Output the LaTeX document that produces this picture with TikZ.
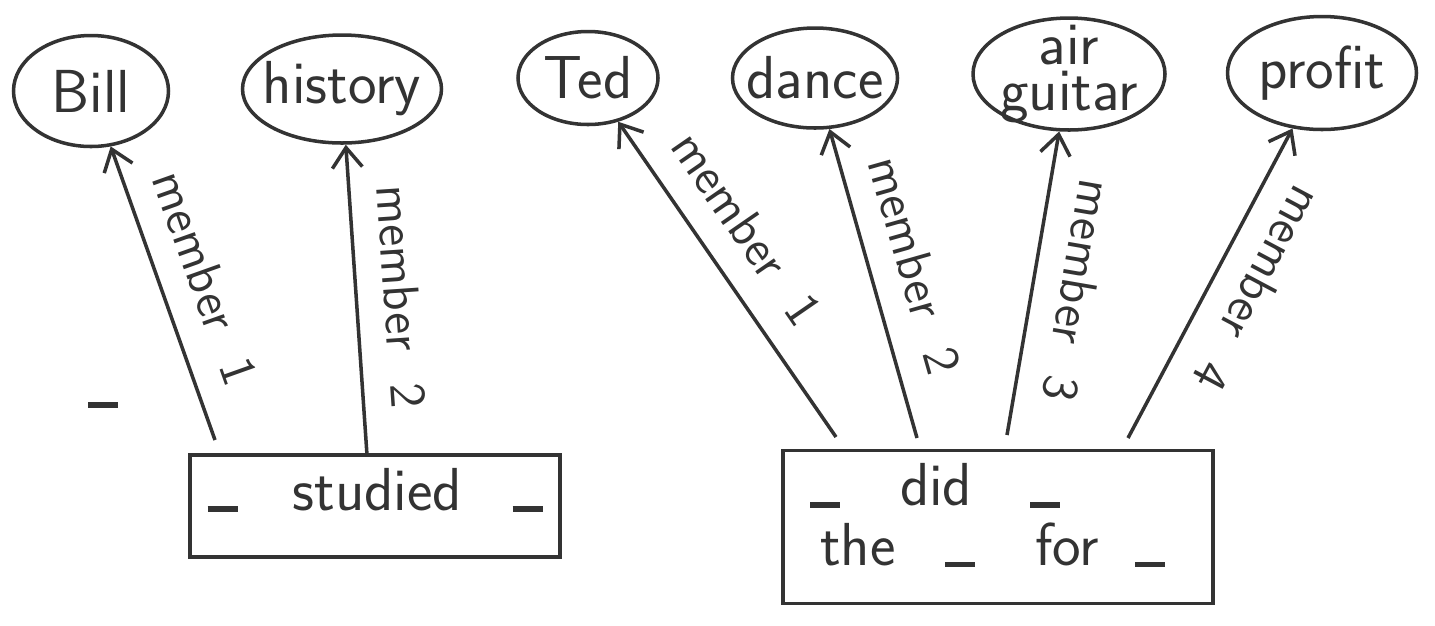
\documentclass[tikz,border=0pt]{standalone}
\usepackage{tikz}
\usetikzlibrary{shapes.geometric, arrows.meta}

\definecolor{ink}{HTML}{333333}
\newcommand{\blankbar}{\rule[-0.5pt]{0.3cm}{1.6pt}}

\begin{document}
\begin{tikzpicture}[
    every node/.style={text=ink, font=\sffamily},
    word/.style={ellipse, draw=ink, line width=1pt, inner sep=0pt},
    every label/.style={font=\LARGE\sffamily, text=ink, align=center},
    frame/.style={rectangle, draw=ink, line width=1pt, font=\LARGE\sffamily},
    rel/.style={{Straight Barb[length=2mm,width=3mm]}-, draw=ink, line width=1pt},
    lbl/.style={sloped, allow upside down, above=4pt, font=\Large\sffamily}]
    \useasboundingbox (0,0) rectangle (14.35,6.25);

    % concepts
    \node[word, minimum width=1.55cm, minimum height=1.11cm, label=center:Bill] (bill) at (0.91,5.34) {};
    \node[word, minimum width=1.99cm, minimum height=1.08cm, label=center:history] (history) at (3.42,5.36) {};
    \node[word, minimum width=1.40cm, minimum height=0.93cm, label=center:Ted] (ted) at (5.88,5.47) {};
    \node[word, minimum width=1.65cm, minimum height=1.00cm, label=center:dance] (dance) at (8.15,5.47) {};
    \node[word, minimum width=1.92cm, minimum height=1.12cm, label={center:air\\[-9pt]guitar}] (guitar) at (10.69,5.51) {};
    \node[word, minimum width=1.89cm, minimum height=1.13cm, label=center:profit] (profit) at (13.22,5.52) {};

    % frames
    \node[frame, minimum width=3.7cm, minimum height=1.02cm, text depth=0.34cm] (studied) at (3.75,1.19)
        {\makebox[0.85cm][l]{\blankbar}\makebox[2.2cm][l]{studied}\blankbar};
    \node[frame, minimum width=4.3cm, minimum height=1.53cm, text width=3.76cm, align=left] (did) at (9.98,0.98)
        {\makebox[0.9cm][l]{\blankbar}\makebox[1.3cm][l]{did}\blankbar\\[-5pt]
         \hspace*{0.1cm}\makebox[1.25cm][l]{the}\makebox[0.9cm][l]{\blankbar}\makebox[1.0cm][l]{for}\blankbar\\[-15pt]
         \mbox{}};

    \node[inner sep=0pt] (mark) at (1.03,2.20) {\blankbar};

    % tails
    \coordinate (t1) at (2.15,1.85);
    \coordinate (t2) at (3.67,1.70);
    \coordinate (t3) at (8.36,1.88);
    \coordinate (t4) at (9.17,1.87);
    \coordinate (t5) at (10.07,1.90);
    \coordinate (t6) at (11.28,1.87);

    \draw[rel] (bill) -- node[lbl, pos=0.5] {member~~1} (t1);
    \draw[rel] (history) -- node[lbl, pos=0.5] {member~~2} (t2);
    \draw[rel] (ted) -- node[lbl, pos=0.42] {member~~1} (t3);
    \draw[rel] (dance) -- node[lbl, pos=0.48] {member~~2} (t4);
    \draw[rel] (guitar) -- node[lbl, pos=0.5] {member~~3} (t5);
    \draw[rel] (profit) -- node[lbl, pos=0.45] {member~~4} (t6);
\end{tikzpicture}
\end{document}
